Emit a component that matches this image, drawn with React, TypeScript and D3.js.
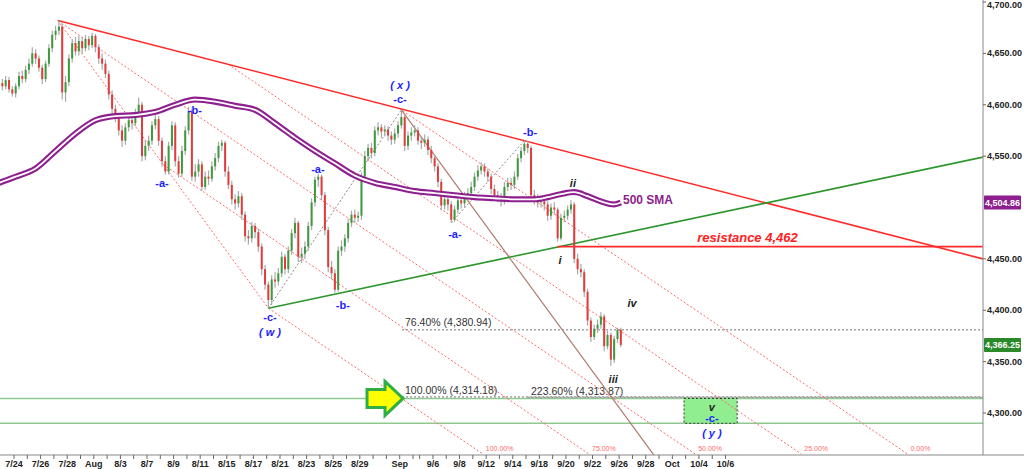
import React from 'react'
import * as d3 from 'd3'

// bars: 4 per session, first bar index is -5 (7/21 afternoon)
const FIRST_BAR = -5
const FIRST_OPEN = 4616

const closes = [
  4621, 4618, 4624, 4615, 4611,
  4618, 4628, 4625, 4634, 4640, 4650, 4645, 4636, 4625, 4640,
  4655, 4668, 4672, 4676, 4612, 4622, 4645, 4660, 4652, 4662,
  4655, 4664, 4658, 4667, 4656, 4645, 4640, 4630, 4610, 4596,
  4588, 4575, 4565, 4578, 4585, 4582, 4592, 4600, 4550, 4560,
  4565, 4580, 4586, 4565, 4545, 4535, 4560, 4580, 4545, 4533,
  4555, 4575, 4594, 4530, 4535, 4542, 4520, 4530, 4528, 4540,
  4548, 4560, 4563, 4535, 4522, 4508, 4504, 4511, 4493, 4472,
  4470, 4482, 4476, 4462, 4440, 4425, 4410, 4430, 4428, 4436,
  4452, 4440, 4458, 4475, 4485, 4452, 4455, 4462, 4482, 4505,
  4527, 4530, 4512, 4478, 4442, 4436, 4420, 4458, 4462, 4470,
  4485, 4493, 4490, 4492, 4530, 4550, 4558, 4553, 4575, 4578,
  4574, 4576, 4570, 4566, 4572, 4580, 4588, 4560, 4570, 4573,
  4575, 4565, 4563, 4566, 4556, 4548, 4540, 4525, 4502, 4508,
  4503, 4488, 4498, 4507, 4504, 4510, 4514, 4520, 4530, 4536,
  4540, 4535, 4530, 4518, 4512, 4510, 4506, 4520, 4524, 4522,
  4530, 4548, 4555, 4562, 4558, 4512, 4508, 4505, 4506, 4503,
  4492, 4500, 4498, 4470, 4490, 4492, 4498, 4503, 4450, 4440,
  4437, 4418, 4390, 4374, 4382, 4386, 4394, 4365, 4376, 4352,
  4372, 4381, 4366.25,
]

const highs = [
  4626, 4625, 4628, 4627, 4618,
  4621, 4632, 4633, 4638, 4645, 4656, 4654, 4648, 4639, 4643,
  4659, 4672, 4677, 4682, 4679, 4628, 4649, 4664, 4666, 4667,
  4666, 4668, 4667, 4670, 4669, 4659, 4650, 4644, 4633, 4614,
  4600, 4592, 4580, 4582, 4590, 4591, 4596, 4607, 4603, 4566,
  4570, 4584, 4590, 4589, 4568, 4550, 4564, 4584, 4583, 4550,
  4560, 4579, 4598, 4596, 4542, 4547, 4545, 4535, 4536, 4545,
  4553, 4564, 4566, 4565, 4540, 4526, 4513, 4516, 4514, 4496,
  4478, 4486, 4485, 4479, 4465, 4444, 4428, 4434, 4437, 4441,
  4457, 4455, 4462, 4479, 4490, 4487, 4461, 4467, 4486, 4509,
  4530, 4533, 4532, 4515, 4481, 4448, 4440, 4462, 4468, 4474,
  4489, 4497, 4498, 4496, 4534, 4555, 4562, 4563, 4579, 4583,
  4581, 4580, 4579, 4574, 4577, 4584, 4595, 4590, 4574, 4578,
  4580, 4578, 4569, 4571, 4569, 4560, 4551, 4543, 4528, 4512,
  4511, 4506, 4502, 4511, 4512, 4515, 4519, 4525, 4534, 4541,
  4544, 4543, 4538, 4533, 4522, 4516, 4514, 4525, 4529, 4529,
  4535, 4552, 4559, 4565, 4565, 4560, 4517, 4513, 4511, 4510,
  4506, 4504, 4505, 4500, 4494, 4497, 4502, 4507, 4505, 4455,
  4445, 4440, 4421, 4393, 4386, 4391, 4398, 4396, 4380, 4378,
  4375, 4383, 4383,
]

const lows = [
  4613, 4614, 4615, 4612, 4608,
  4607, 4615, 4621, 4622, 4630, 4637, 4640, 4632, 4620, 4622,
  4637, 4651, 4663, 4668, 4605, 4603, 4618, 4641, 4648, 4648,
  4650, 4652, 4653, 4655, 4651, 4640, 4634, 4626, 4605, 4590,
  4583, 4570, 4559, 4561, 4574, 4576, 4579, 4588, 4545, 4546,
  4555, 4561, 4576, 4560, 4540, 4532, 4532, 4556, 4540, 4529,
  4530, 4551, 4571, 4526, 4525, 4530, 4516, 4517, 4522, 4525,
  4536, 4544, 4555, 4530, 4518, 4503, 4498, 4500, 4488, 4467,
  4464, 4466, 4470, 4457, 4434, 4420, 4402, 4405, 4422, 4424,
  4432, 4435, 4436, 4454, 4470, 4447, 4446, 4450, 4458, 4478,
  4501, 4520, 4507, 4473, 4437, 4430, 4417, 4418, 4453, 4457,
  4466, 4481, 4485, 4486, 4488, 4526, 4545, 4548, 4550, 4570,
  4568, 4569, 4565, 4561, 4562, 4568, 4577, 4555, 4556, 4565,
  4569, 4561, 4557, 4559, 4551, 4543, 4535, 4520, 4497, 4498,
  4497, 4485, 4486, 4494, 4499, 4500, 4506, 4510, 4516, 4526,
  4532, 4530, 4525, 4513, 4507, 4505, 4501, 4503, 4516, 4517,
  4518, 4527, 4544, 4551, 4553, 4508, 4503, 4500, 4500, 4497,
  4487, 4488, 4493, 4467, 4468, 4486, 4488, 4494, 4446, 4435,
  4432, 4413, 4385, 4369, 4371, 4378, 4382, 4360, 4362, 4346,
  4349, 4368, 4364,
]

// 500 SMA: [bar, value]
const smaBars = [-5, 0, 6, 12, 18, 24, 30, 36, 42, 48, 54, 60, 66, 72, 78, 84, 90, 96, 102, 108, 114, 120, 126, 132, 138, 144, 150, 156, 160, 164, 168, 172, 176, 180, 182]
const smaValues = [4524, 4530, 4538, 4555, 4572, 4585, 4589, 4590, 4593, 4600, 4605, 4603, 4599, 4595, 4582, 4568, 4555, 4543, 4531, 4524, 4520, 4516, 4514, 4512, 4510, 4509, 4508, 4508, 4510, 4513, 4515, 4511, 4506, 4503, 4504.86]

// x-axis labels and the bar where each session begins
const xLabels = ['7/24', '7/26', '7/28', 'Aug', '8/3', '8/7', '8/9', '8/11', '8/15', '8/17', '8/21', '8/23', '8/25', '8/29', 'Sep', '9/6', '9/8', '9/12', '9/14', '9/18', '9/20', '9/22', '9/26', '9/28', 'Oct', '10/4', '10/6']
const xLabelBars = [0, 8, 16, 24, 32, 40, 48, 56, 64, 72, 80, 88, 96, 104, 116, 126, 134, 142, 150, 158, 166, 174, 182, 190, 198, 206, 214]
const sessionStarts = [
  0, 4, 8, 12, 16, 20, 24, 28, 32, 36, 40, 44, 48, 52, 56, 60, 64, 68, 72, 76, 80, 84, 88, 92, 96, 100, 104, 108, 112, 116,
  120, 122, 126, 130, 134, 138, 142, 146, 150, 154, 158, 162, 166, 170, 174, 178, 182, 186, 190, 194, 198, 202, 206, 210, 214,
]

// 4,500.00 sits under the SMA price tag, so it is not labelled
const yTicks = [4300, 4350, 4400, 4450, 4550, 4600, 4650, 4700]

// trend lines [bar, price]
const downTrend = [[13.2, 4682], [291.4, 4450]]
const upTrend = [[76.5, 4402], [291.4, 4549]]
const resistance = { from: 163.5, to: 291.4, price: 4462 }

// fib channel
const chanZero = [116.5, 4595]
const chanHundred = [76.5, 4402]
const chanSlope = -2.2
const chanLevels = [0, 0.25, 0.5, 0.75, 1]
const chanLabels = ['0.00%', '25.00%', '50.00%', '75.00%', '100.00%']

// wave connectors
const steepLine = [[13.2, 4682], [76.5, 4402]]
const wxLine = [[76.5, 4402], [116.5, 4595]]
const abLine = [[131.5, 4485], [153.5, 4565]]

const fibLevels = [
  { label: '76.40% (4,380.94)', price: 4380.94, from: 116.7, textBar: 117.6 },
  { label: '100.00% (4,314.18)', price: 4314.18, from: 116.7, textBar: 117.6 },
  { label: '223.60% (4,313.87)', price: 4313.87, from: 154.5, textBar: 155.5 },
]
const greenLevels = [4314.18, 4290]
const targetBox = { from: 201.5, to: 217.5, top: 4314.18, bottom: 4290 }

const waveLabels: [number, number, string, string, boolean][] = [
  [44.5, 4523.8, '-a-', 'blue', false],
  [54.4, 4594.9, '-b-', 'blue', false],
  [77, 4393.4, '-c-', 'blue', false],
  [77, 4378.8, '( w )', 'blue', true],
  [91.4, 4537.5, '-a-', 'blue', false],
  [98.9, 4405.1, '-b-', 'blue', false],
  [116.1, 4619.2, '( x )', 'blue', true],
  [116.1, 4605.6, '-c-', 'blue', false],
  [132.6, 4474.2, '-a-', 'blue', false],
  [155.2, 4573.5, '-b-', 'blue', false],
  [164.2, 4448.9, 'i', 'black', true],
  [168.1, 4523.8, 'ii', 'black', true],
  [180.2, 4333.1, 'iii', 'black', true],
  [185.9, 4407.1, 'iv', 'black', true],
  [209.9, 4305.8, 'v', 'black', true],
  [209.9, 4295.1, '-c-', 'blue', false],
  [209.9, 4280.5, '( y )', 'blue', true],
]

const W = 1024
const H = 469
const RIGHT = 983
const BOTTOM = 455
const font = 'Arial, "Liberation Sans", sans-serif'
const fmt = d3.format(',.2f')

export default function App() {
  const x = d3.scaleLinear().domain([0, 214]).range([14, 14 + 214 * 3.325])
  const y = d3.scaleLinear().domain([4300, 4700]).range([413, 2])
  const line = d3.line<number[]>().x(d => x(d[0])).y(d => y(d[1]))
  const smaLine = d3.line<number>().x((_, i) => x(smaBars[i] + 0.5)).y(d => y(d)).curve(d3.curveMonotoneX)
  const bottomPrice = y.invert(BOTTOM - 1)

  // channel level -> price at bar b
  const chanAt = (lvl: number, b: number) =>
    (chanZero[1] + chanSlope * (b - chanZero[0])) * (1 - lvl) + (chanHundred[1] + chanSlope * (b - chanHundred[0])) * lvl
  const chanEnd = (lvl: number) => (bottomPrice - chanAt(lvl, 0)) / chanSlope
  const slopeOf = (l: number[][]) => (l[1][1] - l[0][1]) / (l[1][0] - l[0][0])
  // each channel line starts where it meets the upper trend line or the peak-to-(w) line
  const meet = (lvl: number, l: number[][]) => {
    const s = slopeOf(l)
    const c0 = chanAt(lvl, 0)
    const l0 = l[0][1] - s * l[0][0]
    return (l0 - c0) / (chanSlope - s)
  }
  const chanStart = (lvl: number) => {
    const b = meet(lvl, downTrend)
    return b >= downTrend[0][0] - 0.01 ? b : meet(lvl, steepLine)
  }
  const steepSlope = slopeOf(steepLine)
  const brownEnd = chanZero[0] + (bottomPrice - 10 - chanZero[1]) / steepSlope

  const arrowTipX = x(117)
  const arrowTipY = y(4314.18)
  const arrow = [[0, 0], [-18, -17], [-18, -9], [-36, -9], [-36, 9], [-18, 9], [-18, 17]]
    .map(p => `${arrowTipX + p[0]},${arrowTipY + p[1]}`).join(' ')

  return (
    <svg width={W} height={H} style={{ position: 'absolute', left: 0, top: 0, background: '#fff' }}>
      <defs>
        <clipPath id="plot">
          <rect x={0} y={0} width={RIGHT} height={BOTTOM} />
        </clipPath>
      </defs>
      <rect width={W} height={H} fill="#fff" />
      <g clipPath="url(#plot)">
        {greenLevels.map(p => (
          <line key={p} x1={0} x2={RIGHT} y1={y(p)} y2={y(p)} stroke="#8fc98f" strokeWidth={1.5} />
        ))}
        <rect x={x(targetBox.from)} y={y(targetBox.top)} width={x(targetBox.to) - x(targetBox.from)}
          height={y(targetBox.bottom) - y(targetBox.top)} fill="#90ee90" stroke="#333" strokeWidth={1} strokeDasharray="2,2" />
        {fibLevels.map(f => (
          <g key={f.label}>
            <line x1={x(f.from)} x2={RIGHT} y1={y(f.price) - (f.price < 4320 ? 1.5 : 0)} y2={y(f.price) - (f.price < 4320 ? 1.5 : 0)}
              stroke="#777" strokeWidth={1} strokeDasharray="2,2" />
            <text x={x(f.textBar)} y={y(f.price) - 4} fontFamily={font} fontSize={10.5} fill="#333">{f.label}</text>
          </g>
        ))}
        {chanLevels.map((lvl, i) => {
          const b0 = chanStart(lvl)
          return (
            <g key={lvl}>
              <line x1={x(b0)} y1={y(chanAt(lvl, b0))} x2={x(chanEnd(lvl))} y2={y(bottomPrice)}
                stroke="#ff6a6a" strokeWidth={1} strokeDasharray="2,2" />
              <text x={x(chanEnd(lvl)) + 3} y={451} fontFamily={font} fontSize={7} fill="#ff6a6a">{chanLabels[i]}</text>
            </g>
          )
        })}
        <path d={line(steepLine) ?? ''} stroke="#ff6a6a" strokeWidth={1} strokeDasharray="2,2" fill="none" />
        <path d={line(wxLine) ?? ''} stroke="#888" strokeWidth={1} strokeDasharray="2,2" fill="none" />
        <path d={line(abLine) ?? ''} stroke="#888" strokeWidth={1} strokeDasharray="2,2" fill="none" />
        <path d={line([chanZero, [brownEnd, bottomPrice - 10]]) ?? ''} stroke="#b07a6a" strokeWidth={1.2} fill="none" />
        <path d={line(downTrend) ?? ''} stroke="#ff2a2a" strokeWidth={1.6} fill="none" />
        <path d={line(upTrend) ?? ''} stroke="#2f962f" strokeWidth={1.6} fill="none" />
        <line x1={x(resistance.from)} x2={x(resistance.to)} y1={y(resistance.price)} y2={y(resistance.price)}
          stroke="#ff2a2a" strokeWidth={1.8} />
        {closes.map((c, k) => {
          const bar = FIRST_BAR + k
          const o = k === 0 ? FIRST_OPEN : closes[k - 1]
          const cx = x(bar + 0.5)
          const top = y(Math.max(o, c))
          const bot = y(Math.min(o, c))
          return (
            <g key={k}>
              <line x1={cx} x2={cx} y1={y(highs[k])} y2={y(lows[k])} stroke="#a8a8a8" strokeWidth={1.2} />
              <rect x={cx - 1} y={top} width={2} height={Math.max(1, bot - top)} fill={c >= o ? '#3c9a3c' : '#e23b3b'} />
            </g>
          )
        })}
        <path d={smaLine(smaValues) ?? ''} stroke="#8e1f8e" strokeWidth={6} fill="none" />
        <path d={smaLine(smaValues) ?? ''} stroke="#fff" strokeWidth={1.8} fill="none" />
        <polygon points={arrow} fill="#ffff00" stroke="#2fae45" strokeWidth={3} strokeLinejoin="miter" />
        {waveLabels.map(([b, p, t, c, it], i) => (
          <text key={i} x={x(b)} y={y(p)} textAnchor="middle" dominantBaseline="central" fontFamily={font}
            fontSize={11} fontWeight="bold" fontStyle={it ? 'italic' : 'normal'} fill={c === 'blue' ? '#1d1dff' : '#222'}>{t}</text>
        ))}
        <text x={623} y={y(4504) + 1} fontFamily={font} fontSize={12} fontWeight="bold" fill="#8e1f8e">500 SMA</text>
        <text x={x(205.5)} y={y(4462) - 5} fontFamily={font} fontSize={13} fontWeight="bold" fontStyle="italic" fill="#ff2020">resistance 4,462</text>
      </g>
      {/* axes */}
      <line x1={RIGHT} x2={RIGHT} y1={0} y2={BOTTOM} stroke="#888" />
      <line x1={0} x2={W} y1={BOTTOM} y2={BOTTOM} stroke="#888" />
      {yTicks.map(t => (
        <g key={t}>
          <line x1={RIGHT} x2={RIGHT + 3} y1={y(t)} y2={y(t)} stroke="#666" />
          <text x={RIGHT + 4} y={Math.max(y(t), 5)} dominantBaseline="central" fontFamily={font} fontSize={9} fontWeight="bold" fill="#222">{fmt(t)}</text>
        </g>
      ))}
      {sessionStarts.map(b => (
        <line key={b} x1={x(b)} x2={x(b)} y1={BOTTOM} y2={BOTTOM + 4} stroke="#666" />
      ))}
      {xLabels.map((l, i) => (
        <text key={l} x={x(xLabelBars[i])} y={467} textAnchor="middle" fontFamily={font} fontSize={9} fontWeight="bold" fill="#222">{l}</text>
      ))}
      <rect x={RIGHT + 1} y={y(4504.86) - 7} width={37} height={14} fill="#8e1f8e" rx={1} />
      <text x={RIGHT + 19.5} y={y(4504.86)} textAnchor="middle" dominantBaseline="central" fontFamily={font} fontSize={9} fontWeight="bold" fill="#fff">{fmt(4504.86)}</text>
      <rect x={RIGHT + 1} y={y(4366.25) - 7} width={37} height={14} fill="#2a8a2a" rx={1} />
      <text x={RIGHT + 19.5} y={y(4366.25)} textAnchor="middle" dominantBaseline="central" fontFamily={font} fontSize={9} fontWeight="bold" fill="#fff">{fmt(4366.25)}</text>
    </svg>
  )
}
